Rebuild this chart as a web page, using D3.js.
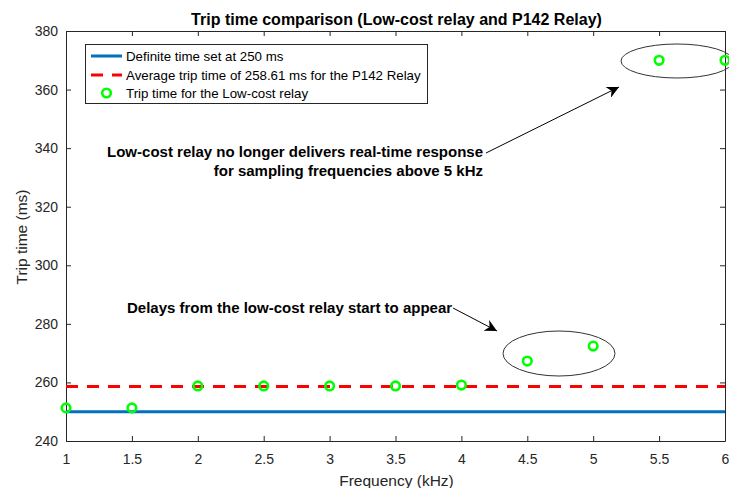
<!DOCTYPE html>
<html><head><meta charset="utf-8">
<script src="https://cdn.jsdelivr.net/npm/d3@7"></script>
<style>body{margin:0;background:#fff;} text{font-family:Arial,"Liberation Sans",sans-serif;}</style>
</head><body>
<svg id="c" width="729" height="488"></svg>
<script>
const freqs = [1, 1.5, 2, 2.5, 3, 3.5, 4, 4.5, 5, 5.5, 6];
const lowCostTrip = [251.3, 251.3, 258.8, 258.8, 258.8, 258.8, 259.1, 267.3, 272.4, 370, 370];
const definiteTime = 250;
const p142Average = 258.61;
const xTicks = [1, 1.5, 2, 2.5, 3, 3.5, 4, 4.5, 5, 5.5, 6];
const yTicks = [240, 260, 280, 300, 320, 340, 360, 380];
const legendLabels = ["Definite time set at 250 ms", "Average trip time of 258.61 ms for the P142 Relay", "Trip time for the Low-cost relay"];
const titleText = "Trip time comparison (Low-cost relay and P142 Relay)";
const xLabel = "Frequency (kHz)";
const yLabel = "Trip time (ms)";
const note1 = ["Low-cost relay no longer delivers real-time response", "for sampling frequencies above 5 kHz"];
const note2 = "Delays from the low-cost relay start to appear";

const svg = d3.select("#c");
const L = 66, R = 725, T = 31, B = 441;
const x = d3.scaleLinear().domain([1, 6]).range([L, R]);
const y = d3.scaleLinear().domain([240, 380]).range([B, T]);
const axCol = "#262626";

const defs = svg.append("defs");
defs.append("clipPath").attr("id", "clipPlot")
  .append("rect").attr("x", L).attr("y", T).attr("width", R - L).attr("height", B - T);
defs.append("marker").attr("id", "arr").attr("viewBox", "0 0 10 10").attr("refX", 10).attr("refY", 5)
  .attr("markerWidth", 16).attr("markerHeight", 12).attr("markerUnits", "userSpaceOnUse").attr("orient", "auto")
  .append("path").attr("d", "M0,0 L10,5 L0,10 L3,5 Z").attr("fill", "#000");

// axes
const tickLen = 5;
function styleAxis(g) {
  g.select(".domain").attr("stroke", axCol);
  g.selectAll(".tick line").attr("stroke", axCol);
  g.selectAll(".tick text").attr("fill", axCol).style("font-size", "14px");
}
svg.append("g").attr("transform", `translate(0,${B})`)
  .call(d3.axisBottom(x).tickValues(xTicks).tickSize(-tickLen).tickPadding(13).tickSizeOuter(0).tickFormat(d3.format("")))
  .call(styleAxis);
svg.append("g").attr("transform", `translate(0,${T})`)
  .call(d3.axisTop(x).tickValues(xTicks).tickSize(-tickLen).tickSizeOuter(0).tickFormat(""))
  .call(styleAxis);
svg.append("g").attr("transform", `translate(${L},0)`)
  .call(d3.axisLeft(y).tickValues(yTicks).tickSize(-tickLen).tickPadding(8).tickSizeOuter(0))
  .call(styleAxis);
svg.append("g").attr("transform", `translate(${R},0)`)
  .call(d3.axisRight(y).tickValues(yTicks).tickSize(-tickLen).tickSizeOuter(0).tickFormat(""))
  .call(styleAxis);

// labels
svg.append("text").attr("x", (L + R) / 2 + 1).attr("y", 25).attr("text-anchor", "middle")
  .style("font-size", "16px").style("font-weight", "bold").attr("fill", "#000").text(titleText);
svg.append("text").attr("x", (L + R) / 2 + 1).attr("y", 486).attr("text-anchor", "middle")
  .style("font-size", "15.5px").attr("fill", axCol).text(xLabel);
svg.append("text").attr("transform", `translate(27,${(T + B) / 2 + 1}) rotate(-90)`).attr("text-anchor", "middle")
  .style("font-size", "15.5px").attr("fill", axCol).text(yLabel);

const plot = svg.append("g").attr("clip-path", "url(#clipPlot)");
plot.append("line").attr("x1", x(1)).attr("x2", x(6)).attr("y1", y(definiteTime)).attr("y2", y(definiteTime))
  .attr("stroke", "#0072BD").attr("stroke-width", 3);
plot.append("line").attr("x1", x(1)).attr("x2", x(6)).attr("y1", y(p142Average)).attr("y2", y(p142Average))
  .attr("stroke", "#FF0000").attr("stroke-width", 3).attr("stroke-dasharray", "12,9");

svg.append("g").selectAll("circle").data(freqs.map((f, i) => [f, lowCostTrip[i]])).join("circle")
  .attr("cx", d => x(d[0])).attr("cy", d => y(d[1])).attr("r", 4.3)
  .attr("fill", "none").attr("stroke", "#00FF00").attr("stroke-width", 2.6);

// annotations: ellipses
svg.append("ellipse").attr("cx", 677).attr("cy", 61).attr("rx", 56).attr("ry", 17)
  .attr("fill", "none").attr("stroke", "#333").attr("stroke-width", 1);
svg.append("ellipse").attr("cx", 559).attr("cy", 353.5).attr("rx", 56).attr("ry", 22.5)
  .attr("fill", "none").attr("stroke", "#333").attr("stroke-width", 1);

// arrows
svg.append("line").attr("x1", 486).attr("y1", 153).attr("x2", 619).attr("y2", 87)
  .attr("stroke", "#000").attr("stroke-width", 1).attr("marker-end", "url(#arr)");
svg.append("line").attr("x1", 453).attr("y1", 308).attr("x2", 497).attr("y2", 331)
  .attr("stroke", "#000").attr("stroke-width", 1).attr("marker-end", "url(#arr)");

// annotation text
const t1 = svg.append("text").attr("text-anchor", "end").style("font-size", "15px").style("font-weight", "bold").attr("fill", "#000");
note1.forEach((s, i) => t1.append("tspan").attr("x", 483).attr("y", 157 + i * 19).text(s));
svg.append("text").attr("x", 127).attr("y", 313).style("font-size", "15px").style("font-weight", "bold").attr("fill", "#000").text(note2);

// legend
const lg = svg.append("g");
lg.append("rect").attr("x", 85.5).attr("y", 44.5).attr("width", 342).attr("height", 59)
  .attr("fill", "#fff").attr("stroke", axCol).attr("stroke-width", 1);
const rows = [56, 75, 93];
lg.append("line").attr("x1", 91).attr("x2", 122).attr("y1", rows[0]).attr("y2", rows[0]).attr("stroke", "#0072BD").attr("stroke-width", 3);
lg.append("line").attr("x1", 91).attr("x2", 122).attr("y1", rows[1]).attr("y2", rows[1]).attr("stroke", "#FF0000").attr("stroke-width", 3).attr("stroke-dasharray", "12,9");
lg.append("circle").attr("cx", 106.5).attr("cy", rows[2]).attr("r", 4.3).attr("fill", "none").attr("stroke", "#00FF00").attr("stroke-width", 2.6);
legendLabels.forEach((s, i) => lg.append("text").attr("x", 126).attr("y", rows[i] + 5).style("font-size", "13.3px").attr("fill", "#000").text(s));
</script>
</body></html>
